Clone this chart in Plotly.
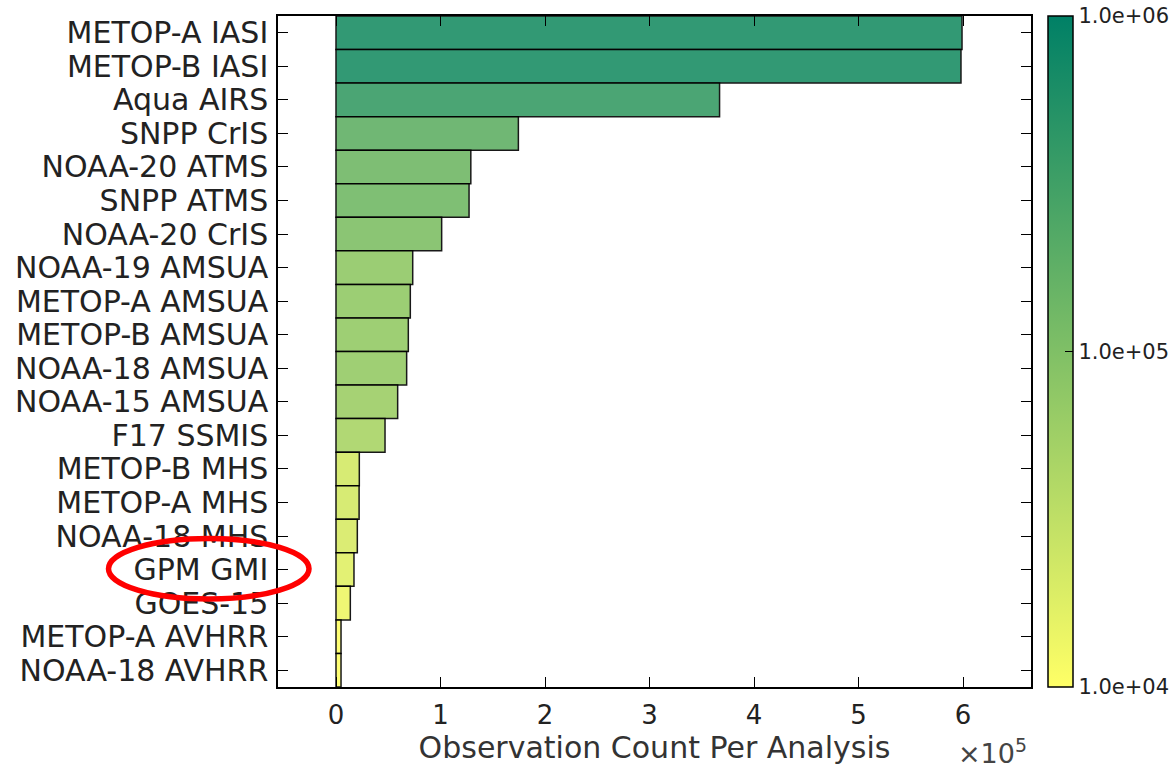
import numpy as np
import plotly.graph_objects as go

categories = ["METOP-A IASI", "METOP-B IASI", "Aqua AIRS", "SNPP CrIS", "NOAA-20 ATMS",
              "SNPP ATMS", "NOAA-20 CrIS", "NOAA-19 AMSUA", "METOP-A AMSUA", "METOP-B AMSUA",
              "NOAA-18 AMSUA", "NOAA-15 AMSUA", "F17 SSMIS", "METOP-B MHS", "METOP-A MHS",
              "NOAA-18 MHS", "GPM GMI", "GOES-15", "METOP-A AVHRR", "NOAA-18 AVHRR"]
counts = [599000, 598000, 367000, 174500, 129000,
          127300, 101100, 73400, 71100, 69200,
          67600, 59000, 46900, 22300, 22100,
          20400, 17200, 13700, 4800, 4800]

cb_tickvals = [4, 5, 6]
cb_ticktext = ["1.0e+04", "1.0e+05", "1.0e+06"]
x_tickvals = [0, 1e5, 2e5, 3e5, 4e5, 5e5, 6e5]
x_ticktext = ["0", "1", "2", "3", "4", "5", "6"]

W, H = 1171, 770
L, R, T, B = 278, 1031, 16, 687

font_family = "DejaVu Sans"

fig = go.Figure()
fig.add_trace(go.Bar(
    x=counts, y=categories, orientation="h", width=1.0,
    marker=dict(
        color=np.log10(counts),
        colorscale=[[0, "rgb(255,255,102)"], [1, "rgb(0,128,102)"]],
        cmin=4, cmax=6,
        opacity=0.9,
        line=dict(color="black", width=1.5),
        showscale=True,
        colorbar=dict(
            x=(1048 - L) / (R - L), xanchor="left", xpad=0,
            y=0.5, yanchor="middle", len=1, lenmode="fraction", ypad=0,
            thickness=25, thicknessmode="pixels",
            outlinewidth=1.5, outlinecolor="black",
            tickvals=cb_tickvals, ticktext=cb_ticktext,
            ticks="inside", ticklen=8, tickcolor="black",
            tickfont=dict(family=font_family, size=21, color="#222"),
        ),
    ),
    hoverinfo="x+y",
))

fig.update_layout(
    width=W, height=H,
    margin=dict(l=L, r=W - R, t=T, b=H - B, pad=0, autoexpand=False),
    plot_bgcolor="white", paper_bgcolor="white",
    showlegend=False,
    font=dict(family=font_family, color="#222"),
    xaxis=dict(
        range=[-0.555e5, 6.65e5],
        tickvals=x_tickvals, ticktext=x_ticktext,
        ticks="inside", ticklen=10, tickcolor="black", tickwidth=1,
        showline=True, linecolor="black", linewidth=1.5, mirror="ticks",
        showgrid=False, zeroline=False, automargin=False,
        tickfont=dict(size=26, family=font_family, color="#222"),
        ticklabelstandoff=4,
        title=dict(text="Observation Count Per Analysis",
                   font=dict(size=30, family=font_family, color="#333"), standoff=2),
    ),
    yaxis=dict(
        categoryorder="array", categoryarray=categories,
        tickmode="array", tickvals=categories, ticktext=categories,
        range=[len(categories) - 0.5, -0.5],
        ticks="inside", ticklen=10, tickcolor="black", tickwidth=1,
        showline=True, linecolor="black", linewidth=1.5, mirror="ticks",
        showgrid=False, zeroline=False, automargin=False,
        tickfont=dict(size=30, family=font_family, color="#222"),
        ticklabelstandoff=2,
    ),
)

# multiplier text
fig.add_annotation(
    x=(992 - L) / (R - L), y=(B - 751) / (B - T), xref="paper", yref="paper",
    xanchor="center", yanchor="middle",
    text="×10<sup>5</sup>", showarrow=False,
    font=dict(size=27, family=font_family, color="#444"),
)

# red highlight ellipse around GPM GMI
fig.add_shape(
    type="circle", xref="paper", yref="paper",
    x0=(108.5 - L) / (R - L), x1=(309 - L) / (R - L),
    y0=(B - 599) / (B - T), y1=(B - 538.5) / (B - T),
    line=dict(color="red", width=5.5),
)

fig.write_html("out.html", config={"displayModeBar": False},
               post_script="document.body.style.margin='0px';")
